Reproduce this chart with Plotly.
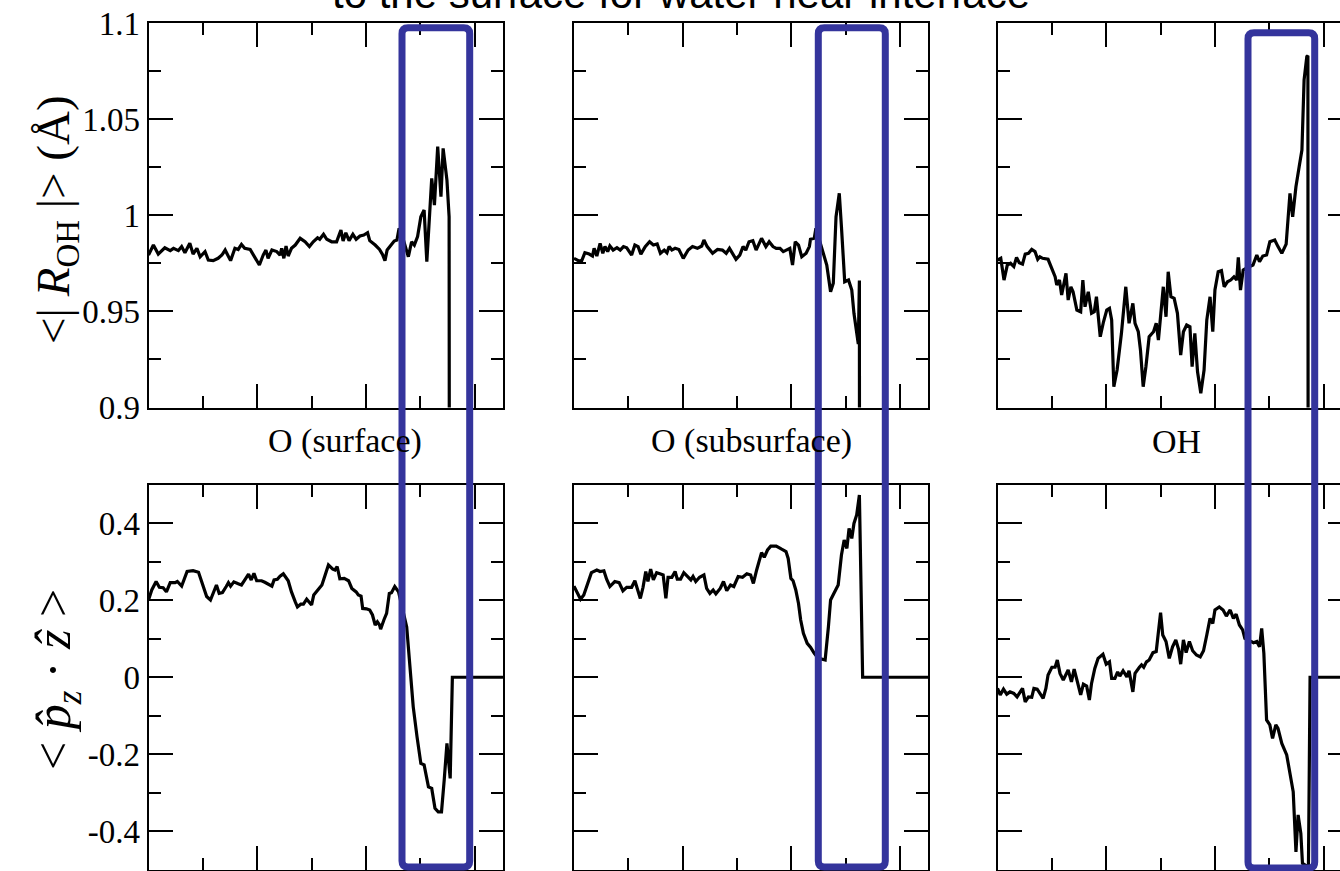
import plotly.graph_objects as go

# ---------------- data ----------------
# Top row: <|R_OH|> (Angstrom); bottom row: <p_z . z>
# x: distance along the slab (arbitrary Angstrom units, 1 minor tick = 1)

x_R_surf = [0.00,0.09,0.18,0.30,0.40,0.46,0.55,0.61,0.67,0.76,0.82,0.89,0.95,1.04,1.10,1.19,1.28,1.35,1.41,1.45,
            1.51,1.59,1.65,1.71,1.77,1.87,1.96,2.04,2.11,2.16,2.20,2.27,2.36,2.42,2.45,2.49,2.53,2.57,2.63,2.70,
            2.79,2.88,2.96,3.03,3.11,3.15,3.22,3.28,3.37,3.46,3.54,3.58,3.63,3.69,3.76,3.82,3.89,3.96,4.03,4.07,
            4.17,4.25,4.31,4.35,4.39,4.46,4.52,4.57,4.61,4.66,4.78,4.84,4.89,4.95,5.01,5.07,5.12,5.21,5.26,5.32,
            5.38,5.42,5.49,5.53,5.56,6.52]
R_surf = [0.9793,0.9845,0.9798,0.9831,0.9816,0.9828,0.9816,0.9837,0.9805,0.9854,0.9798,0.9828,0.9784,0.9811,0.9767,0.9764,0.9776,0.9793,0.9819,0.9793,
          0.9764,0.9828,0.9822,0.9848,0.9828,0.9822,0.9776,0.9741,0.9793,0.9819,0.9776,0.9819,0.9811,0.9793,0.9828,0.9776,0.9840,0.9788,0.9828,0.9845,
          0.9880,0.9862,0.9837,0.9862,0.9883,0.9875,0.9901,0.9875,0.9862,0.9862,0.9923,0.9866,0.9909,0.9868,0.9901,0.9875,0.9892,0.9897,0.9909,0.9868,
          0.9845,0.9822,0.9793,0.9764,0.9819,0.9845,0.9866,0.9871,0.9932,0.9900,0.9784,0.9862,0.9845,0.9889,0.9992,1.0027,0.9758,1.0192,1.0053,1.0357,
          1.0097,1.0348,1.0183,0.9992,0.0,0.0]

x_R_sub = [0.00,0.08,0.14,0.20,0.28,0.34,0.37,0.42,0.48,0.53,0.57,0.62,0.66,0.72,0.79,0.85,0.91,0.97,1.06,1.12,
           1.18,1.23,1.31,1.39,1.46,1.53,1.59,1.66,1.71,1.75,1.80,1.86,1.93,2.01,2.10,2.18,2.27,2.35,2.39,2.45,
           2.55,2.64,2.73,2.80,2.86,2.92,2.98,3.05,3.11,3.16,3.22,3.29,3.35,3.45,3.53,3.59,3.66,3.72,3.79,3.85,
           3.91,3.97,4.02,4.07,4.13,4.19,4.27,4.33,4.35,4.42,4.45,4.59,4.65,4.72,4.77,4.82,4.88,4.92,4.98,5.05,
           5.11,5.15,5.20,5.23,5.25,5.27,6.52]
R_sub = [0.9776,0.9764,0.9762,0.9805,0.9798,0.9788,0.9828,0.9788,0.9854,0.9802,0.9837,0.9811,0.9840,0.9819,0.9831,0.9819,0.9837,0.9831,0.9793,0.9845,
         0.9837,0.9798,0.9837,0.9862,0.9845,0.9851,0.9802,0.9819,0.9805,0.9837,0.9819,0.9828,0.9822,0.9776,0.9819,0.9837,0.9828,0.9840,0.9871,0.9837,
         0.9802,0.9822,0.9819,0.9802,0.9828,0.9802,0.9771,0.9793,0.9837,0.9819,0.9862,0.9868,0.9819,0.9880,0.9837,0.9862,0.9837,0.9828,0.9828,0.9811,
         0.9819,0.9828,0.9741,0.9862,0.9845,0.9784,0.9802,0.9837,0.9875,0.9880,0.9932,0.9793,0.9741,0.9602,0.9646,0.9992,1.0114,0.9940,0.9654,0.9663,
         0.9611,0.9490,0.9403,0.9330,0.9660,0.0,0.0]

x_R_oh = [0.00,0.06,0.12,0.18,0.24,0.30,0.35,0.40,0.46,0.51,0.57,0.63,0.69,0.74,0.78,0.83,0.93,1.00,1.06,1.09,
          1.14,1.18,1.22,1.26,1.30,1.35,1.39,1.46,1.53,1.57,1.61,1.67,1.73,1.78,1.82,1.89,1.95,2.01,2.06,2.10,
          2.14,2.20,2.28,2.36,2.42,2.49,2.53,2.59,2.63,2.68,2.73,2.79,2.87,2.92,2.96,3.00,3.05,3.10,3.14,3.19,
          3.25,3.31,3.37,3.42,3.48,3.54,3.58,3.63,3.68,3.74,3.80,3.85,3.91,3.96,4.00,4.06,4.12,4.17,4.23,4.29,
          4.35,4.40,4.43,4.47,4.52,4.61,4.70,4.77,4.82,4.88,4.95,5.01,5.10,5.16,5.23,5.31,5.38,5.43,5.49,5.55,
          5.60,5.64,5.69,5.71,5.73,6.30]
R_oh = [0.9767,0.9776,0.9663,0.9741,0.9750,0.9733,0.9781,0.9753,0.9746,0.9798,0.9802,0.9822,0.9811,0.9771,0.9784,0.9776,0.9771,0.9724,0.9680,0.9637,
        0.9663,0.9585,0.9654,0.9698,0.9559,0.9628,0.9602,0.9507,0.9498,0.9663,0.9524,0.9602,0.9490,0.9498,0.9576,0.9368,0.9446,0.9507,0.9516,0.9455,
        0.9108,0.9195,0.9386,0.9628,0.9438,0.9542,0.9438,0.9394,0.9299,0.9108,0.9212,0.9368,0.9394,0.9438,0.9351,0.9490,0.9628,0.9472,0.9706,0.9576,
        0.9568,0.9490,0.9273,0.9394,0.9429,0.9420,0.9212,0.9386,0.9186,0.9074,0.9195,0.9455,0.9576,0.9394,0.9611,0.9706,0.9712,0.9628,0.9654,0.9663,
        0.9680,0.9663,0.9781,0.9611,0.9715,0.9730,0.9741,0.9793,0.9758,0.9788,0.9793,0.9862,0.9871,0.9837,0.9802,0.9850,1.0114,0.9992,1.0148,1.0253,
        1.0339,1.0704,1.0825,1.0830,0.0,0.0]

x_p_surf = [0.00,0.06,0.14,0.20,0.27,0.33,0.40,0.49,0.53,0.61,0.71,0.82,0.92,1.01,1.07,1.14,1.20,1.25,1.30,1.36,
            1.43,1.47,1.51,1.57,1.65,1.71,1.79,1.84,1.89,1.94,1.99,2.08,2.14,2.20,2.27,2.31,2.37,2.42,2.48,2.57,
            2.63,2.70,2.74,2.80,2.85,2.91,2.96,3.00,3.04,3.09,3.19,3.25,3.31,3.39,3.43,3.47,3.52,3.60,3.68,3.74,
            3.82,3.86,3.91,3.94,4.01,4.07,4.12,4.17,4.21,4.25,4.27,4.33,4.38,4.43,4.47,4.53,4.60,4.75,4.81,4.87,
            4.94,5.01,5.07,5.15,5.21,5.27,5.33,5.39,5.44,5.49,5.55,5.59,6.52]
p_surf = [0.201,0.227,0.249,0.234,0.233,0.222,0.246,0.246,0.249,0.237,0.275,0.277,0.273,0.236,0.210,0.201,0.222,0.240,0.218,0.220,
          0.236,0.246,0.237,0.248,0.243,0.240,0.257,0.268,0.253,0.270,0.251,0.251,0.247,0.242,0.237,0.253,0.255,0.263,0.269,0.251,
          0.222,0.196,0.183,0.190,0.190,0.203,0.196,0.188,0.214,0.222,0.240,0.266,0.292,0.281,0.279,0.288,0.256,0.257,0.251,0.231,
          0.222,0.214,0.211,0.179,0.178,0.175,0.162,0.136,0.144,0.136,0.125,0.149,0.166,0.218,0.220,0.236,0.222,0.131,0.027,-0.077,
          -0.155,-0.224,-0.228,-0.285,-0.289,-0.341,-0.350,-0.350,-0.267,-0.172,-0.263,0.0,0.0]

x_p_sub = [0.00,0.05,0.12,0.18,0.24,0.32,0.42,0.48,0.55,0.60,0.66,0.75,0.83,0.90,0.97,1.06,1.12,1.17,1.22,1.27,
           1.32,1.36,1.41,1.46,1.52,1.58,1.64,1.69,1.73,1.80,1.86,1.90,1.96,2.02,2.08,2.15,2.19,2.24,2.31,2.39,
           2.44,2.50,2.56,2.61,2.69,2.75,2.81,2.88,2.94,3.02,3.10,3.18,3.25,3.30,3.36,3.42,3.45,3.50,3.56,3.62,
           3.72,3.82,3.90,3.94,3.99,4.03,4.08,4.13,4.17,4.22,4.29,4.35,4.42,4.49,4.62,4.68,4.72,4.78,4.86,4.92,
           4.97,5.02,5.06,5.11,5.15,5.20,5.25,5.31,6.52]
p_sub = [0.237,0.222,0.203,0.214,0.240,0.272,0.279,0.275,0.277,0.255,0.236,0.249,0.246,0.225,0.234,0.234,0.251,0.231,0.205,0.234,
         0.275,0.249,0.281,0.253,0.272,0.269,0.266,0.205,0.260,0.260,0.275,0.255,0.255,0.272,0.263,0.253,0.262,0.249,0.260,0.266,
         0.231,0.218,0.227,0.217,0.231,0.249,0.225,0.240,0.236,0.262,0.260,0.269,0.266,0.244,0.279,0.305,0.324,0.312,0.331,0.341,
         0.341,0.333,0.327,0.309,0.257,0.251,0.227,0.192,0.149,0.114,0.088,0.078,0.062,0.050,0.045,0.131,0.201,0.218,0.240,0.318,
         0.357,0.335,0.387,0.361,0.400,0.422,0.474,0.0,0.0]

x_p_oh = [0.00,0.05,0.11,0.17,0.23,0.30,0.36,0.46,0.51,0.57,0.63,0.67,0.73,0.84,0.89,0.93,1.00,1.06,1.10,1.15,
          1.21,1.30,1.36,1.41,1.47,1.53,1.58,1.64,1.69,1.73,1.79,1.85,1.94,2.00,2.06,2.10,2.16,2.21,2.25,2.31,
          2.38,2.42,2.49,2.53,2.61,2.65,2.69,2.74,2.79,2.86,2.92,2.96,3.00,3.04,3.10,3.16,3.22,3.28,3.33,3.37,
          3.42,3.47,3.53,3.59,3.66,3.73,3.79,3.85,3.91,3.96,4.00,4.08,4.15,4.21,4.28,4.34,4.39,4.45,4.51,4.55,
          4.71,4.77,4.82,4.86,4.90,4.95,5.01,5.06,5.12,5.16,5.23,5.32,5.38,5.44,5.49,5.53,5.58,5.61,5.69,5.72,
          5.75,6.30]
p_oh = [-0.029,-0.046,-0.031,-0.044,-0.038,-0.042,-0.051,-0.029,-0.064,-0.051,-0.052,-0.029,-0.031,-0.055,-0.029,0.006,0.026,0.026,0.045,0.010,
        -0.007,0.019,-0.012,0.021,-0.012,-0.046,-0.018,-0.023,-0.059,-0.016,0.023,0.049,0.060,0.034,0.040,-0.003,-0.003,0.014,0.003,0.017,
        0.001,0.017,-0.038,0.010,0.026,0.032,0.026,0.040,0.045,0.064,0.067,0.114,0.168,0.110,0.093,0.049,0.079,0.097,0.073,0.034,
        0.097,0.064,0.093,0.069,0.058,0.053,0.069,0.110,0.153,0.140,0.175,0.183,0.175,0.159,0.175,0.153,0.164,0.136,0.123,0.101,
        0.090,0.093,0.079,0.127,0.062,-0.111,-0.124,-0.159,-0.124,-0.133,-0.172,-0.202,-0.254,-0.298,-0.454,-0.358,-0.406,-0.484,-0.491,-0.493,
        0.0,0.0]

panel_titles = ["O (surface)", "O (subsurface)", "OH"]
R_ticks = [0.9, 0.95, 1.0, 1.05, 1.1]
R_ticktext = ["0.9", "0.95", "1", "1.05", "1.1"]
R_minor = [0.925, 0.975, 1.025, 1.075]
p_ticks = [-0.4, -0.2, 0.0, 0.2, 0.4]
p_ticktext = ["-0.4", "-0.2", "0", "0.2", "0.4"]
p_minor = [-0.3, -0.1, 0.1, 0.3]
x_ticks = [0, 2, 4, 6]
x_minor = [1, 3, 5]

# ---------------- layout geometry (pixels) ----------------
W, H = 1340, 871
UNIT = 54.36  # px per x unit
cols = [(148.5, 503.0), (574.0, 928.0), (997.5, 1340.0)]
rows = [(23.0, 407.5), (485.0, 869.5)]

def fx(p):
    return p / W

def fy(p):
    return 1 - p / H

SERIF = "Liberation Serif, Times New Roman, serif"
SANS = "Liberation Sans, Arial, sans-serif"

fig = go.Figure()
series = [(x_R_surf, R_surf), (x_R_sub, R_sub), (x_R_oh, R_oh),
          (x_p_surf, p_surf), (x_p_sub, p_sub), (x_p_oh, p_oh)]
for i, (xs, ys) in enumerate(series):
    assert len(xs) == len(ys), (i, len(xs), len(ys))
    n = i + 1
    fig.add_trace(go.Scatter(x=xs, y=ys, mode="lines",
                             xaxis="x" if n == 1 else f"x{n}",
                             yaxis="y" if n == 1 else f"y{n}",
                             line=dict(color="black", width=3.2),
                             showlegend=False, hoverinfo="skip"))

# invisible traces to carry the right-edge tick stubs of the third column
fig.add_trace(go.Scatter(x=[None], y=[None], xaxis="x3", yaxis="y7", showlegend=False, hoverinfo="skip"))
fig.add_trace(go.Scatter(x=[None], y=[None], xaxis="x6", yaxis="y8", showlegend=False, hoverinfo="skip"))

tickfont = dict(family=SERIF, size=33, color="black")
common = dict(showline=True, linecolor="black", linewidth=2, ticks="inside",
              ticklen=24, tickwidth=2, tickcolor="black", showgrid=False,
              zeroline=False, fixedrange=True)
minor_style = dict(ticks="inside", ticklen=12, tickwidth=2, tickcolor="black", showgrid=False)

layout = dict(width=W, height=H, margin=dict(l=0, r=0, t=0, b=0, autoexpand=False),
              paper_bgcolor="white", plot_bgcolor="white", showlegend=False)

for r, (ytop, ybot) in enumerate(rows):
    for c, (xl, xr) in enumerate(cols):
        n = r * 3 + c + 1
        xname = "xaxis" if n == 1 else f"xaxis{n}"
        yname = "yaxis" if n == 1 else f"yaxis{n}"
        xa = "x" if n == 1 else f"x{n}"
        ya = "y" if n == 1 else f"y{n}"
        layout[xname] = dict(common, domain=[fx(xl), fx(xr)], range=[0, (xr - xl) / UNIT],
                             anchor=ya, mirror="ticks", tickmode="array", tickvals=x_ticks,
                             showticklabels=False,
                             minor=dict(minor_style, tickmode="array", tickvals=x_minor))
        if r == 0:
            tv, tt, mv, rng = R_ticks, R_ticktext, R_minor, [0.9, 1.1]
        else:
            tv, tt, mv, rng = p_ticks, p_ticktext, p_minor, [-0.5, 0.5]
        layout[yname] = dict(common, domain=[fy(ybot), fy(ytop)], range=rng, anchor=xa,
                             mirror=("ticks" if c < 2 else False),
                             tickmode="array", tickvals=tv, ticktext=tt,
                             showticklabels=(c == 0), tickfont=tickfont,
                             minor=dict(minor_style, tickmode="array", tickvals=mv))

# right-edge tick stubs for the cut-off third column
for name, over, tv, rng in [("yaxis7", "y3", [0.95, 1.0, 1.05], [0.9, 1.1]),
                            ("yaxis8", "y6", [-0.4, -0.2, 0.0, 0.2, 0.4], [-0.5, 0.5])]:
    layout[name] = dict(overlaying=over, anchor="free", position=1.0, side="right",
                        range=rng, tickmode="array", tickvals=tv, ticks="inside",
                        ticklen=12, tickwidth=2, tickcolor="black", showline=False,
                        showticklabels=False, showgrid=False, zeroline=False, fixedrange=True)

fig.update_layout(**layout)

# ---------------- annotations ----------------
ann = []
ann.append(dict(text="to the surface for water near interface", x=fx(681), y=fy(19),
                xref="paper", yref="paper", xanchor="center", yanchor="bottom",
                showarrow=False, font=dict(family=SANS, size=42, color="black")))
for label, cx in zip(panel_titles, [345, 751, 1176]):
    ann.append(dict(text=label, x=fx(cx), y=fy(441), xref="paper", yref="paper",
                    xanchor="center", yanchor="middle", showarrow=False,
                    font=dict(family=SERIF, size=34, color="black")))
ann.append(dict(text="&lt;| <i>R</i><sub>OH</sub> |&gt; (Å)", x=fx(57), y=fy(220),
                xref="paper", yref="paper", xanchor="center", yanchor="middle",
                textangle=-90, showarrow=False, font=dict(family=SERIF, size=47, color="black")))
ann.append(dict(text="&lt; <i>p\u0302</i><sub><i>z</i></sub> · <i>\u1e91</i> &gt;", x=fx(57), y=fy(680),
                xref="paper", yref="paper", xanchor="center", yanchor="middle",
                textangle=-90, showarrow=False, font=dict(family=SERIF, size=50, color="black")))
fig.update_layout(annotations=ann)

# ---------------- highlight boxes (rounded rectangles) ----------------
def rounded_rect(x0, x1, yt, yb, rad=6.0):
    X0, X1 = fx(x0), fx(x1)
    YT, YB = fy(yt), fy(yb)
    rx, ry = rad / W, rad / H
    return (f"M {X0+rx},{YT} L {X1-rx},{YT} Q {X1},{YT} {X1},{YT-ry} "
            f"L {X1},{YB+ry} Q {X1},{YB} {X1-rx},{YB} L {X0+rx},{YB} "
            f"Q {X0},{YB} {X0},{YB+ry} L {X0},{YT-ry} Q {X0},{YT} {X0+rx},{YT} Z")

boxes = [(402.0, 469.7, 27.7, 867.0), (818.3, 885.3, 27.7, 867.0), (1248.0, 1314.7, 32.8, 868.0)]
fig.update_layout(shapes=[dict(type="path", path=rounded_rect(*b), xref="paper", yref="paper",
                               line=dict(color="#34349C", width=7), fillcolor="rgba(0,0,0,0)",
                               layer="above") for b in boxes])

fig.write_html("out.html")
